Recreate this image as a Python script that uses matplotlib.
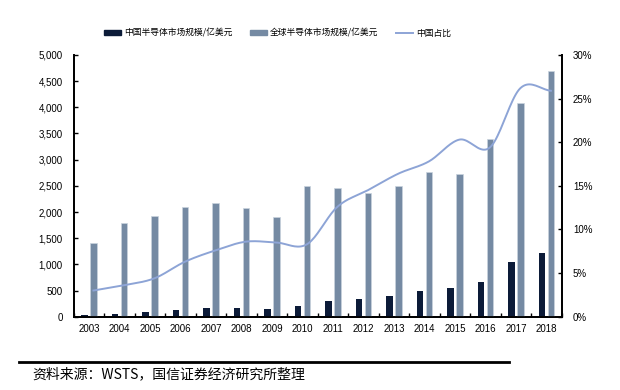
import matplotlib
matplotlib.use("Agg")
import matplotlib.pyplot as plt
import numpy as np
from matplotlib.ticker import FuncFormatter, MultipleLocator
from matplotlib.patches import Patch
from matplotlib.lines import Line2D

years = ["2003", "2004", "2005", "2006", "2007", "2008", "2009", "2010",
         "2011", "2012", "2013", "2014", "2015", "2016", "2017", "2018"]
china = [30, 50, 90, 128, 166, 172, 153, 204, 294, 338, 401, 491, 548, 663, 1051, 1211]
world = [1400, 1785, 1915, 2090, 2166, 2080, 1895, 2497, 2460, 2370, 2497, 2770, 2735, 3390, 4080, 4690]
share = [3.0, 3.6, 4.4, 6.3, 7.6, 8.6, 8.5, 8.3, 12.6, 14.5, 16.4, 17.8, 20.3, 19.4, 26.2, 25.9]

label_china = "中国半导体市场规模/亿美元"
label_world = "全球半导体市场规模/亿美元"
label_share = "中国占比"
source = "资料来源：WSTS，国信证券经济研究所整理"

C_DARK = "#0C1B38"
C_WORLD = "#758AA3"
C_LINE = "#8DA4D6"

plt.rcParams['font.family'] = ['Liberation Sans', 'Noto Sans CJK SC', 'DejaVu Sans']

fig = plt.figure(figsize=(6.2, 3.9), dpi=100)
ax = fig.add_axes([0.119, 0.188, 0.787, 0.671])
ax2 = ax.twinx()

x = np.arange(len(years))
w = 0.215
ax.bar(x - 0.145, china, width=w, color=C_DARK, zorder=3)
ax.bar(x + 0.145, world, width=w, color=C_WORLD, edgecolor="#C9D3DE", linewidth=0.5, zorder=3)

# smooth line (Catmull-Rom style rendering through the data points)
def catmull(xs, ys, n=20):
    xs = np.asarray(xs, float); ys = np.asarray(ys, float)
    px = np.concatenate([[2*xs[0]-xs[1]], xs, [2*xs[-1]-xs[-2]]])
    py = np.concatenate([[2*ys[0]-ys[1]], ys, [2*ys[-1]-ys[-2]]])
    outx, outy = [], []
    for i in range(1, len(px) - 2):
        t = np.linspace(0, 1, n, endpoint=False)
        for arr, out in ((px, outx), (py, outy)):
            p0, p1, p2, p3 = arr[i-1], arr[i], arr[i+1], arr[i+2]
            out.extend(0.5 * ((2*p1) + (-p0 + p2)*t + (2*p0 - 5*p1 + 4*p2 - p3)*t**2 + (-p0 + 3*p1 - 3*p2 + p3)*t**3))
    outx.append(xs[-1]); outy.append(ys[-1])
    return np.array(outx), np.array(outy)

sx, sy = catmull(x + 0.145, share)
ax2.plot(sx, sy, color=C_LINE, lw=1.4, zorder=4)

ax.set_xlim(-0.5, len(years) - 0.5)
ax.set_ylim(0, 5000)
ax2.set_ylim(0, 30)
ax.yaxis.set_major_locator(MultipleLocator(500))
ax.yaxis.set_major_formatter(FuncFormatter(lambda v, p: f"{int(v):,}"))
ax2.yaxis.set_major_locator(MultipleLocator(5))
ax2.yaxis.set_major_formatter(FuncFormatter(lambda v, p: f"{int(v)}%"))

ax.set_xticks(x)
ax.set_xticklabels(years)
ax.set_xticks(np.arange(-0.5, len(years)), minor=True)
ax.tick_params(axis='x', which='major', length=0, labelsize=7, pad=5)
ax.tick_params(axis='x', which='minor', length=3, direction='in', width=1)
ax.tick_params(axis='y', direction='in', length=3, width=1, labelsize=7, pad=8)
ax2.tick_params(axis='y', direction='in', length=3, width=1, labelsize=7, pad=8)

for a in (ax, ax2):
    a.spines['top'].set_visible(False)
    for s in ('left', 'right', 'bottom'):
        a.spines[s].set_linewidth(1.3)
        a.spines[s].set_color('black')

handles = [Patch(color=C_DARK), Patch(color=C_WORLD), Line2D([], [], color=C_LINE, lw=1.4)]
fig.legend(handles, [label_china, label_world, label_share], loc='center',
           bbox_to_anchor=(0.447, 0.915), ncol=3, frameon=False,
           prop={'family': ['Noto Sans CJK SC'], 'size': 6.3},
           handlelength=2.0, handleheight=0.6, columnspacing=2.0, handletextpad=0.3)

fig.add_artist(Line2D([19/620, 509/620], [1 - 361.5/390] * 2, color='black', lw=2, transform=fig.transFigure))
fig.text(32/620, 1 - 374/390, source, fontsize=10, va='center', ha='left',
         family=['Noto Sans CJK SC', 'DejaVu Sans'], weight='medium')

fig.savefig("out.png", dpi=100)
